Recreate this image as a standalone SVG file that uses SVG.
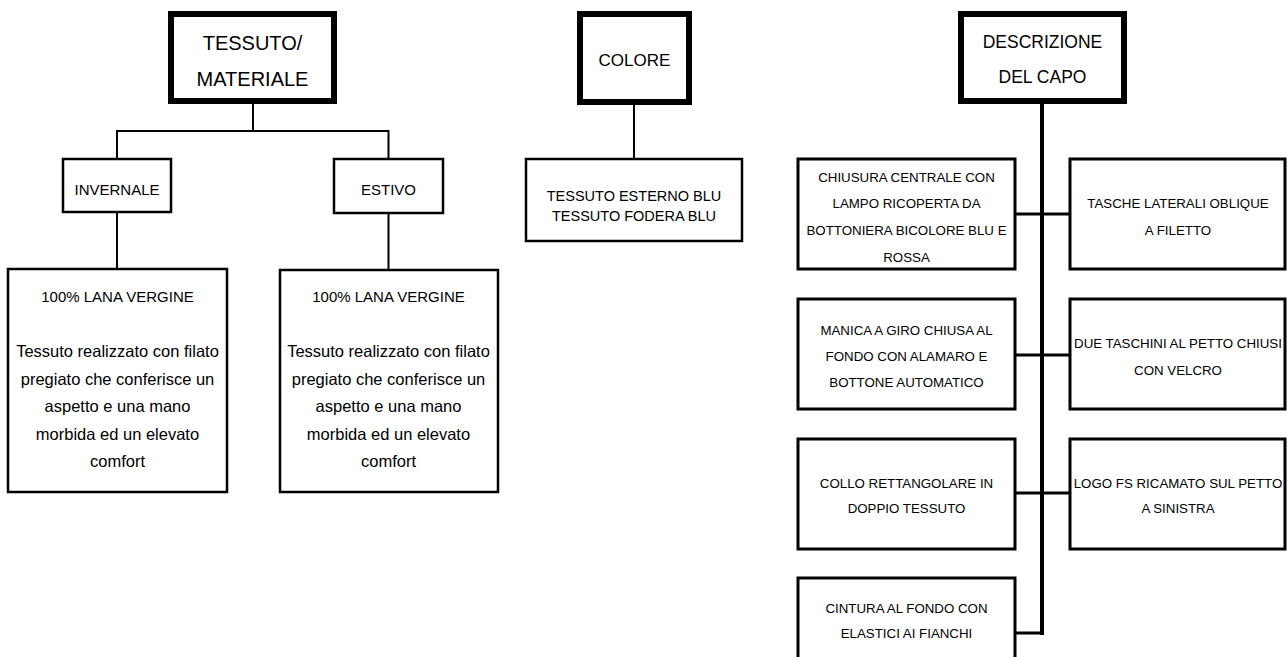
<svg xmlns="http://www.w3.org/2000/svg" width="1287" height="657" viewBox="0 0 1287 657">
<style>
text{font-family:"Liberation Sans",Arial,sans-serif;fill:#000;text-anchor:middle}
.hd{fill:#fff;stroke:#000;stroke-width:6}
.bx{fill:#fff;stroke:#000;stroke-width:2.5}
.bx3{fill:#fff;stroke:#000;stroke-width:3}
.c{fill:none;stroke:#000;stroke-width:2}
.c4{fill:none;stroke:#000;stroke-width:4}
.c3{fill:none;stroke:#000;stroke-width:3}
.h20{font-size:20px}.h17{font-size:17px}.h175{font-size:17.5px}
.s15{font-size:15px}.s145{font-size:14.5px}.l{font-size:16.5px}.r{font-size:13.3px}
</style>
<rect width="1287" height="657" fill="#fff"/>
<g id="connectors">
<path class="c" d="M253 104V131M117 131H388.5M117 130V159M388.5 130V159M117 212V269M388.5 213V270"/>
<path class="c" d="M634 105V158"/>
<path class="c4" d="M1042 104V635"/>
<path class="c3" d="M1016 214H1069M1016 355H1069M1016 493H1069M1016 633H1044"/>
</g>
<g id="tessuto">
<rect class="hd" x="171" y="14" width="163" height="87"/>
<text class="h20" x="252.5" y="50">TESSUTO/</text>
<text class="h20" x="252.5" y="86">MATERIALE</text>
</g>
<g id="invernale">
<rect class="bx" x="63" y="159" width="108" height="53"/>
<text class="s15" x="117" y="195">INVERNALE</text>
</g>
<g id="estivo">
<rect class="bx" x="334" y="159" width="109" height="54"/>
<text class="s15" x="388.5" y="195">ESTIVO</text>
</g>
<g id="lana-invernale">
<rect class="bx" x="8" y="269" width="219" height="223"/>
<text class="s15" x="117.5" y="302">100% LANA VERGINE</text>
<text class="l" x="117.5" y="357">Tessuto realizzato con filato</text>
<text class="l" x="117.5" y="384.5">pregiato che conferisce un</text>
<text class="l" x="117.5" y="412">aspetto e una mano</text>
<text class="l" x="117.5" y="439.5">morbida ed un elevato</text>
<text class="l" x="117.5" y="467">comfort</text>
</g>
<g id="lana-estivo">
<rect class="bx" x="280" y="270" width="218" height="222"/>
<text class="s15" x="388.5" y="302">100% LANA VERGINE</text>
<text class="l" x="388.5" y="357">Tessuto realizzato con filato</text>
<text class="l" x="388.5" y="384.5">pregiato che conferisce un</text>
<text class="l" x="388.5" y="412">aspetto e una mano</text>
<text class="l" x="388.5" y="439.5">morbida ed un elevato</text>
<text class="l" x="388.5" y="467">comfort</text>
</g>
<g id="colore">
<rect class="hd" x="580" y="14" width="109" height="88"/>
<text class="h17" x="634.5" y="66">COLORE</text>
</g>
<g id="colore-dettaglio">
<rect class="bx" x="526" y="159" width="216" height="82"/>
<text class="s145" x="634" y="201">TESSUTO ESTERNO BLU</text>
<text class="s145" x="634" y="221">TESSUTO FODERA BLU</text>
</g>
<g id="descrizione">
<rect class="hd" x="961" y="14" width="163" height="87"/>
<text class="h175" x="1042.5" y="48">DESCRIZIONE</text>
<text class="h175" x="1042.5" y="83">DEL CAPO</text>
</g>
<g id="chiusura">
<rect class="bx3" x="798" y="159" width="217" height="110"/>
<text class="r" x="906.5" y="182">CHIUSURA CENTRALE CON</text>
<text class="r" x="906.5" y="208">LAMPO RICOPERTA DA</text>
<text class="r" x="906.5" y="235">BOTTONIERA BICOLORE BLU E</text>
<text class="r" x="906.5" y="262">ROSSA</text>
</g>
<g id="tasche">
<rect class="bx3" x="1070" y="159" width="215" height="110"/>
<text class="r" x="1178" y="208">TASCHE LATERALI OBLIQUE</text>
<text class="r" x="1178" y="235">A FILETTO</text>
</g>
<g id="manica">
<rect class="bx3" x="798" y="299" width="217" height="110"/>
<text class="r" x="906.5" y="335">MANICA A GIRO CHIUSA AL</text>
<text class="r" x="906.5" y="361">FONDO CON ALAMARO E</text>
<text class="r" x="906.5" y="387">BOTTONE AUTOMATICO</text>
</g>
<g id="taschini">
<rect class="bx3" x="1070" y="299" width="215" height="110"/>
<text class="r" x="1178" y="348">DUE TASCHINI AL PETTO CHIUSI</text>
<text class="r" x="1178" y="375">CON VELCRO</text>
</g>
<g id="collo">
<rect class="bx3" x="798" y="439" width="217" height="110"/>
<text class="r" x="906.5" y="488">COLLO RETTANGOLARE IN</text>
<text class="r" x="906.5" y="513">DOPPIO TESSUTO</text>
</g>
<g id="logo">
<rect class="bx3" x="1070" y="439" width="215" height="110"/>
<text class="r" x="1178" y="488">LOGO FS RICAMATO SUL PETTO</text>
<text class="r" x="1178" y="513">A SINISTRA</text>
</g>
<g id="cintura">
<rect class="bx3" x="798" y="578" width="217" height="100"/>
<text class="r" x="906.5" y="613">CINTURA AL FONDO CON</text>
<text class="r" x="906.5" y="638">ELASTICI AI FIANCHI</text>
</g>
</svg>
